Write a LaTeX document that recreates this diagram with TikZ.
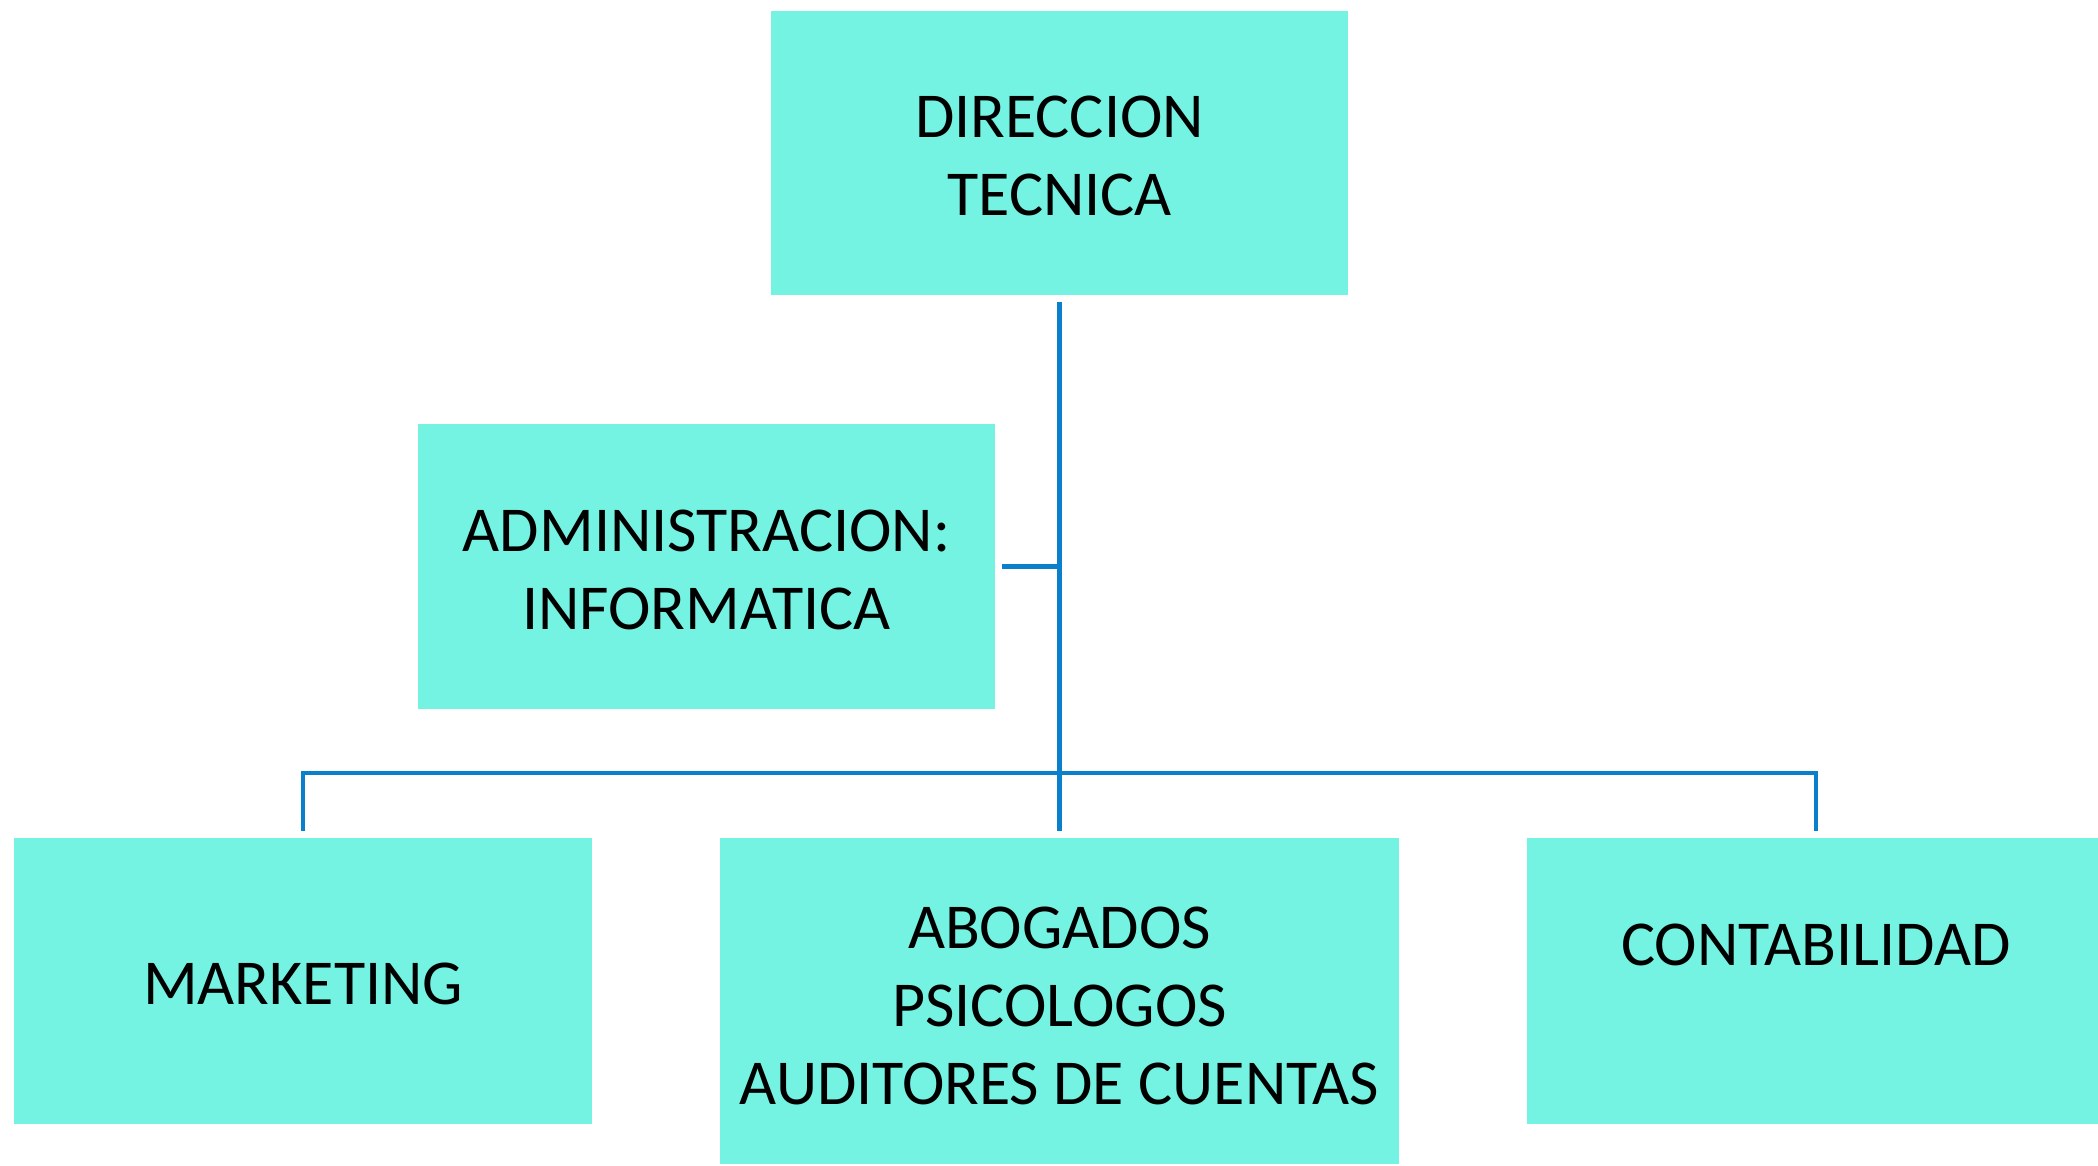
\documentclass[tikz,border=0pt]{standalone}
\usepackage{fontspec}
\setmainfont{Carlito}
\definecolor{boxfill}{HTML}{74F2E2}
\definecolor{linecol}{HTML}{0A80CC}
\begin{document}
\begin{tikzpicture}[x=0.5pt,y=-0.5pt,
  orgbox/.style={rectangle, fill=boxfill, draw=none, inner sep=0pt},
  boxtext/.style={inner sep=0pt, align=center, font=\fontsize{32}{39}\selectfont},
  conn/.style={draw=linecol, line width=2.4pt, line join=miter}]
\useasboundingbox (0,0) rectangle (2098,1166);
\node[orgbox, minimum width=288.5pt, minimum height=142pt] (dir) at (1059.5,153) {};
\node[orgbox, minimum width=288.5pt, minimum height=142.5pt] (adm) at (706.5,566.5) {};
\node[orgbox, minimum width=289pt, minimum height=143pt] (mkt) at (303,981) {};
\node[orgbox, minimum width=339.5pt, minimum height=163pt] (abo) at (1059.5,1001) {};
\node[orgbox, minimum width=289pt, minimum height=143pt] (cont) at (1816,981) {};
\node[boxtext] (dirt) at ([yshift=-1.5pt]dir.center) {DIRECCION\\TECNICA};
\node[boxtext] (admt) at ([yshift=-1.5pt]adm.center) {ADMINISTRACION:\\INFORMATICA};
\node[boxtext] (mktt) at ([yshift=-1.5pt]mkt.center) {MARKETING};
\node[boxtext] (abot) at ([yshift=-2.5pt]abo.center) {ABOGADOS\\PSICOLOGOS\\AUDITORES DE CUENTAS};
\node[boxtext] (contt) at ([yshift=-1.5pt]cont.center) {CONTABILIDAD\\~};
\coordinate (bus) at (1059.5,773);
\draw[conn] ([yshift=-3.5pt]dir.south) -- ([yshift=3.5pt]abo.north);
\draw[conn] ([xshift=3.5pt]adm.east) -- (adm.east -| dir.south);
\draw[conn] ([yshift=3.5pt]mkt.north) |- (bus) -| ([yshift=3.5pt]cont.north);
\end{tikzpicture}
\end{document}
